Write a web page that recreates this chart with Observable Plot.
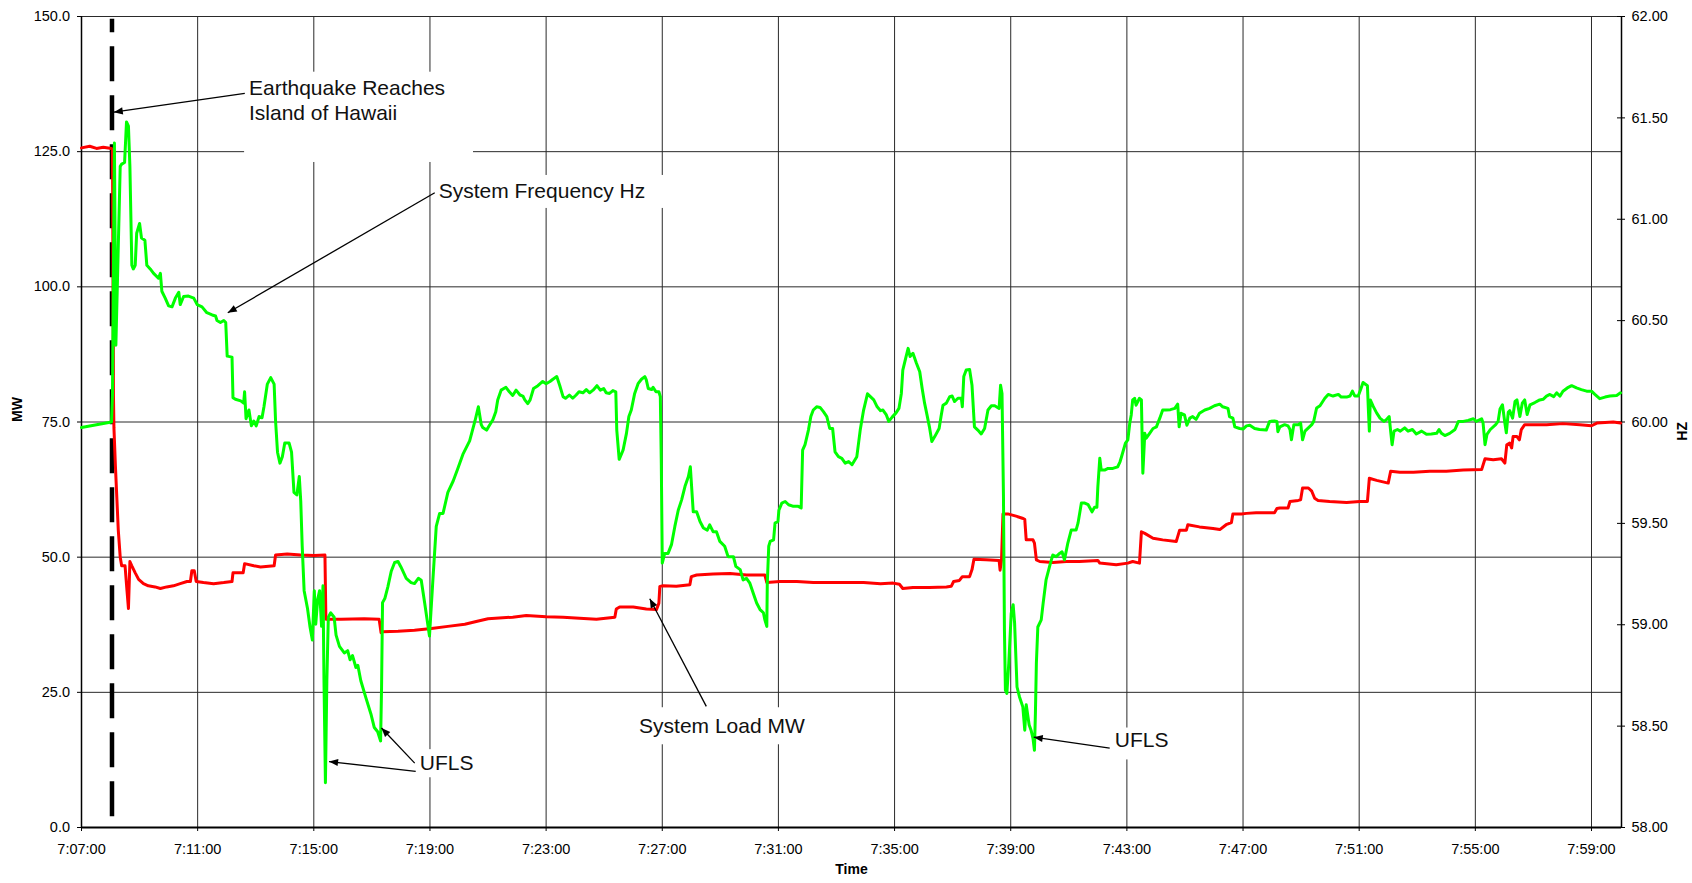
<!DOCTYPE html>
<html>
<head>
<meta charset="utf-8">
<script src="https://cdn.jsdelivr.net/npm/d3@7"></script>
<script src="https://cdn.jsdelivr.net/npm/@observablehq/plot@0.6"></script>
<style>
  html, body { margin: 0; padding: 0; background: #fff; }
  svg { display: block; }
</style>
</head>
<body>
<div id="chart"></div>
<script>
// ---------------- data ----------------
const xTickLabels = ["7:07:00","7:11:00","7:15:00","7:19:00","7:23:00","7:27:00","7:31:00","7:35:00","7:39:00","7:43:00","7:47:00","7:51:00","7:55:00","7:59:00"];
const yTicksMW = [0, 25, 50, 75, 100, 125, 150];
const yTicksHz = [58, 58.5, 59, 59.5, 60, 60.5, 61, 61.5, 62];
const startLabel = "7:07:00";
const endOffsetSec = 3182;
const quakeSec = 63;

// System Load (MW), seconds after 7:07:00
const loadSec = [0,17,31,45,62,64,65,66,67,70,73,76,80,83,90,94,97,100,104,111,118,128,138,152,163,176,190,204,218,225,228,233,237,252,273,294,311,313,334,337,356,370,398,401,425,453,481,503,505,536,584,615,619,622,654,688,723,757,792,820,
840,891,919,960,995,1029,1064,1102,1105,1112,1140,1167,1188,1193,1195,1202,1229,1257,1260,1271,1305,1340,1374,1412,1416,1443,1478,1512,1547,1582,1616,1651,
1677,1690,1697,1718,1752,1787,1797,1802,1814,1820,1835,1840,1844,1869,1896,1898,1901,1904,1914,1931,1944,1949,1952,1966,1969,1973,1980,2007,2035,2062,2100,2104,2138,2162,2172,2186,2190,2197,2214,2234,2262,2265,2269,2283,2286,2310,2338,2352,2365,2376,2379,2397,2407,2427,2465,2470,
2476,2493,2497,2514,2519,2523,2535,2542,2548,2555,2579,2614,2641,2657,2661,2676,2700,2705,2724,2752,2786,2820,2855,2893,2900,2917,2934,2941,2945,2951,2955,2958,2966,2971,2975,2982,3027,3061,3096,3120,3131,3165,3180];
const loadMW = [125.7,126,125.6,125.8,125.6,125.4,105,80,74,67,61,55,50,48.4,48.4,43.8,40.5,49.2,48.4,47.1,45.9,45.1,44.7,44.5,44.2,44.5,44.7,45.1,45.5,45.5,47.5,47.5,45.5,45.3,45.1,45.3,45.5,47.1,47.1,48.8,48.4,48.2,48.4,50.4,50.6,50.4,50.3,50.4,38.5,38.5,38.6,38.5,36,36.2,36.3,36.5,36.8,37.2,37.6,38.2,
38.6,38.9,39.2,39,38.9,38.7,38.5,38.9,40.4,40.8,40.8,40.4,40.3,41.5,44.6,44.7,44.6,44.9,46.4,46.7,46.9,47,46.7,46.7,45.3,45.5,45.5,45.3,45.3,45.3,45.3,45.1,
45.2,45,44.2,44.4,44.4,44.5,44.6,45.5,45.7,46.4,46.4,47.7,49.6,49.5,49.4,47.6,49.5,58,58,57.6,57.2,57,53.2,53.2,52.6,49.5,49.2,49,49.2,49.2,49.4,48.9,48.6,48.9,49.2,48.9,54.7,54.4,53.5,53.2,52.9,53.8,55,55,56,55.6,55.3,55.1,56,56.4,58,58,58.1,58.2,58.2,59,
59.1,59.1,60.3,60.5,60.6,62.8,62.8,62.2,60.9,60.5,60.3,60.1,60.3,60.3,64.6,64.2,63.7,65.9,65.7,65.7,65.9,65.9,66.1,66.2,68.2,68,68.2,67.4,70.8,71.1,70.2,72.3,72.3,71.7,73.6,74.5,74.5,74.7,74.5,74.3,74.8,75,74.8];

// System Frequency (Hz), seconds after 7:07:00
const freqSec = [0,62,64,68,71,74,80,83,89,93,97,100,104,107,111,114,120,124,131,135,142,149,159,163,166,173,180,187,194,201,204,211,221,232,239,249,259,270,277,280,287,294,298,301,311,313,318,329,335,337,340,346,351,356,361,367,373,377,384,391,398,401,405,410,415,420,429,434,439,445,450,453,456,460,467,472,477,481,484,488,492,496,499,501,504,507,510,515,522,526,533,543,550,555,560,567,571,577,588,598,605,612,618,620,622,627,633,640,647,654,660,671,681,688,696,702,709,719,726,733,740,747,757,768,778,788,802,813,820,826,
829,837,843,850,856,860,867,877,884,891,898,906,912,916,922,927,934,943,953,960,968,974,982,988,995,1000,1008,1015,1022,1028,1036,1043,1050,1057,1065,1072,1079,1084,1091,1098,1104,1106,1111,1119,1126,1131,1136,1143,1150,1157,1164,1167,1171,1178,1181,1187,1193,1196,1198,1200,1205,1212,1219,1226,1233,1240,1247,1254,1258,1264,1271,1278,1285,1293,1298,1305,1312,1319,1329,1336,1347,1352,1361,1367,1374,1381,1388,1395,1402,1409,1412,1416,1417,1420,1423,1430,1433,1439,1441,1447,1454,1461,1471,1481,1487,1490,1495,1502,1507,1512,1519,1526,1533,1540,1546,1552,1557,1564,1571,1578,1585,1592,1602,1609,1616,1624,1630,1637,1644,1651,
1656,1663,1668,1675,1683,1689,1694,1697,1703,1708,1712,1718,1725,1732,1737,1742,1747,1752,1757,1763,1772,1776,1780,1787,1794,1799,1804,1811,1818,1820,1823,1828,1835,1840,1845,1852,1859,1866,1873,1880,1887,1896,1899,1902,1905,1907,1909,1912,1916,1921,1925,1928,1933,1938,1945,1949,1952,1958,1962,1966,1969,1971,1973,1976,1983,1987,1993,2000,2004,2007,2014,2021,2026,2031,2038,2045,2055,2059,2066,2073,2080,2088,2093,2098,2100,2104,2107,2114,2121,2131,2141,2146,2150,2157,2162,2166,2169,2172,2176,2179,2186,2190,2193,2197,2200,2207,2214,2221,2228,2234,2241,2250,2259,2265,2268,2272,2279,2284,2290,2296,2303,2310,2321,2331,2341,2352,2358,2369,2372,2379,2383,2393,2400,2407,2414,2424,2434,2448,2455,2465,2470,2472,2476,
2486,2493,2497,2500,2505,2514,2519,2523,2528,2535,2542,2546,2552,2559,2569,2576,2586,2597,2603,2614,2621,2626,2631,2638,2643,2648,2657,2659,2661,2663,2669,2676,2683,2691,2696,2702,2705,2708,2712,2719,2725,2734,2741,2750,2758,2769,2779,2789,2800,2805,2810,2817,2827,2838,2845,2855,2865,2876,2882,2893,2896,2900,2904,2911,2922,2927,2931,2936,2941,2944,2948,2951,2957,2962,2966,2972,2977,2982,2987,2993,3003,3013,3020,3027,3034,3042,3048,3055,3061,3070,3079,3089,3099,3110,3120,3127,3137,3148,3158,3172,3180];
const freqHz = [59.973,60.000,60.133,61.376,60.379,60.667,61.261,61.272,61.280,61.480,61.459,61.261,60.773,60.755,60.773,60.931,60.979,60.907,60.896,60.773,60.755,60.733,60.709,60.733,60.645,60.611,60.573,60.568,60.611,60.640,60.579,60.619,60.621,60.611,60.579,60.568,60.539,60.528,60.523,60.501,60.491,60.501,60.491,60.325,60.320,60.120,60.112,60.104,60.093,60.149,60.016,60.059,59.981,60.005,59.981,60.027,60.021,60.075,60.187,60.219,60.187,60.005,59.851,59.797,59.829,59.896,59.896,59.851,59.653,59.640,59.731,59.611,59.389,59.168,59.080,58.992,58.925,59.168,59.003,59.125,59.168,58.992,59.192,58.731,58.221,58.731,59.037,59.059,59.037,58.949,58.893,58.861,58.872,58.827,58.848,58.789,58.800,58.725,58.637,58.560,58.493,58.472,58.427,58.691,59.109,59.131,59.187,59.264,59.307,59.312,59.285,59.229,59.208,59.203,59.229,59.219,59.109,58.944,59.219,59.485,59.549,59.549,59.653,59.709,59.773,59.840,59.907,60.005,60.075,59.987,
59.973,59.960,59.984,60.011,60.051,60.109,60.157,60.171,60.149,60.131,60.157,60.133,60.128,60.109,60.091,60.109,60.165,60.179,60.200,60.189,60.200,60.211,60.224,60.181,60.125,60.117,60.133,60.117,60.133,60.149,60.144,60.160,60.144,60.157,60.179,60.157,60.165,60.144,60.141,60.155,60.149,59.960,59.816,59.861,59.944,60.027,60.059,60.141,60.189,60.211,60.224,60.208,60.165,60.160,60.171,60.149,60.149,60.125,59.797,59.304,59.352,59.352,59.395,59.485,59.565,59.616,59.683,59.731,59.779,59.557,59.557,59.509,59.477,59.467,59.493,59.459,59.459,59.411,59.387,59.336,59.336,59.288,59.272,59.221,59.229,59.205,59.155,59.107,59.075,59.059,59.024,58.992,59.205,59.387,59.411,59.419,59.501,59.509,59.565,59.600,59.608,59.592,59.584,59.584,59.576,59.861,59.888,59.960,60.027,60.059,60.075,60.072,60.051,60.027,59.968,59.968,59.853,59.829,59.821,59.797,59.805,59.789,59.829,59.960,60.059,60.139,60.125,60.109,60.075,60.056,
60.059,60.035,60.003,60.024,60.045,60.067,60.141,60.256,60.315,60.363,60.323,60.339,60.291,60.248,60.165,60.093,60.035,59.976,59.904,59.928,59.968,60.027,60.083,60.093,60.125,60.128,60.101,60.117,60.117,60.075,60.224,60.256,60.259,60.181,59.976,59.960,59.941,59.968,60.059,60.080,60.080,60.067,60.181,60.141,59.632,58.973,58.677,58.661,58.811,59.056,59.099,59.008,58.693,58.645,58.595,58.480,58.605,58.507,58.480,58.440,58.381,58.563,58.811,58.989,59.024,59.107,59.221,59.285,59.320,59.344,59.336,59.352,59.360,59.320,59.403,59.467,59.467,59.501,59.600,59.600,59.592,59.557,59.579,59.579,59.680,59.821,59.763,59.763,59.771,59.771,59.779,59.805,59.837,59.896,59.912,59.995,60.035,60.109,60.117,60.083,60.117,60.109,59.747,59.944,59.920,59.944,59.968,59.976,60.019,60.059,60.059,60.061,60.067,60.088,59.976,60.043,60.035,59.984,60.019,60.027,60.013,60.043,60.059,60.067,60.080,60.088,60.075,60.067,60.027,60.019,59.976,59.968,59.965,59.981,59.984,59.968,59.963,59.960,60.003,60.005,60.003,59.952,59.976,
59.987,59.981,59.963,59.912,59.987,59.987,59.995,59.912,59.955,59.971,59.987,60.003,60.069,60.080,60.117,60.136,60.128,60.136,60.123,60.123,60.128,60.152,60.128,60.128,60.160,60.195,60.179,60.061,59.955,60.109,60.077,60.045,60.019,60.003,60.011,60.027,59.955,59.888,59.955,59.963,59.955,59.971,59.955,59.963,59.941,59.955,59.939,59.941,59.944,59.963,59.944,59.933,59.944,59.963,60.003,60.003,60.008,60.016,60.003,60.016,59.995,59.888,59.939,59.963,59.987,60.003,60.064,60.085,59.995,59.947,60.048,60.056,60.019,60.101,60.109,60.027,60.093,60.109,60.037,60.085,60.096,60.109,60.112,60.128,60.136,60.125,60.144,60.128,60.152,60.168,60.179,60.168,60.160,60.152,60.152,60.136,60.115,60.123,60.128,60.131,60.144];

// annotations (time offset in seconds, value in MW units of the left axis)
const noteTexts = [
  {s: 346, m: 130.8, text: "Earthquake Reaches\nIsland of Hawaii"},
  {s: 738, m: 116.5, text: "System Frequency Hz"},
  {s: 1152, m: 17.5, text: "System Load MW"},
  {s: 699, m: 10.7, text: "UFLS"},
  {s: 2135, m: 14.9, text: "UFLS"}
];
const noteBoxes = [
  {s1: 337, s2: 810, m1: 123.0, m2: 139.7},
  {s1: 730, s2: 1205, m1: 114.5, m2: 120.6},
  {s1: 1143, s2: 1525, m1: 15.3, m2: 22.15},
  {s1: 693, s2: 815, m1: 9.2, m2: 14.4},
  {s1: 2129, s2: 2248, m1: 12.5, m2: 18.4}
];
const noteArrows = [
  {s1: 337.4, m1: 135.8, s2: 66.7, m2: 132.3},
  {s1: 729.9, m1: 117.4, s2: 302.2, m2: 95.2},
  {s1: 1291, m1: 22.4, s2: 1174.2, m2: 42.3},
  {s1: 690.6, m1: 10.4, s2: 511.5, m2: 12.2},
  {s1: 688.5, m1: 11.9, s2: 619.8, m2: 18.4},
  {s1: 2124.5, m1: 14.7, s2: 1967.5, m2: 16.7}
];

// ---------------- build ----------------
if (loadSec.length !== loadMW.length) throw new Error("load mismatch " + loadSec.length + " " + loadMW.length);
if (freqSec.length !== freqHz.length) throw new Error("freq mismatch " + freqSec.length + " " + freqHz.length);

const parseT = d3.utcParse("%H:%M:%S");
const fmtT = d3.utcFormat("%-H:%M:%S");
const t0 = parseT(startLabel);
const at = s => new Date(+t0 + s * 1000);
const hzToMW = hz => (hz - 58) * 37.5;

const load = loadSec.map((s, i) => ({t: at(s), v: loadMW[i]}));
const freq = freqSec.map((s, i) => ({t: at(s), v: hzToMW(freqHz[i])}));
const xTicks = xTickLabels.map(parseT);
const hzTicksMW = yTicksHz.map(hzToMW);

const W = 1692, H = 883, mL = 81, mR = 71, mT = 16, mB = 56;
const plotW = W - mL - mR;
const FONT = "'Liberation Sans', Arial, Helvetica, sans-serif";
const gridColor = "#2a2a2a";
const arrowColor = "#010101";

const chart = Plot.plot({
  width: W, height: H,
  marginLeft: mL, marginRight: mR, marginTop: mT, marginBottom: mB,
  style: {fontFamily: FONT, fontSize: "14.5px", background: "#fff", color: "#000"},
  x: {type: "utc", domain: [t0, at(endOffsetSec)]},
  y: {domain: [0, 150]},
  marks: [
    // grid
    Plot.ruleY(yTicksMW, {stroke: gridColor, strokeWidth: 1}),
    Plot.ruleX(xTicks, {stroke: gridColor, strokeWidth: 1}),
    // white label boxes
    Plot.rect(noteBoxes, {x1: d => at(d.s1), x2: d => at(d.s2), y1: "m1", y2: "m2", fill: "#fff"}),
    // axis lines
    Plot.ruleX([t0], {stroke: "#000", strokeWidth: 1.5}),
    Plot.ruleX([at(endOffsetSec)], {stroke: "#000", strokeWidth: 1.5}),
    Plot.ruleY([0], {stroke: "#000", strokeWidth: 1.8}),
    // axes
    Plot.axisX({anchor: "bottom", ticks: xTicks, tickFormat: fmtT, tickSize: 4, tickPadding: 12, label: null, fontSize: 14.5}),
    Plot.axisY({anchor: "left", ticks: yTicksMW, tickFormat: d => d.toFixed(1), tickSize: 4, tickPadding: 7.5, label: null, fontSize: 14.5}),
    Plot.axisY({anchor: "right", ticks: hzTicksMW, tickFormat: d => (58 + d / 37.5).toFixed(2), tickSize: 0, tickPadding: 10, label: null, fontSize: 14.5}),
    Plot.ruleY(hzTicksMW, {insetLeft: plotW - 4, insetRight: -4, stroke: "#000", strokeWidth: 1}),
    // axis titles
    Plot.text(["MW"], {frameAnchor: "left", dx: -63.5, rotate: -90, text: d => d, fontWeight: "bold", fontSize: 14}),
    Plot.text(["HZ"], {frameAnchor: "right", dx: 61.5, rotate: -90, text: d => d, fontWeight: "bold", fontSize: 14}),
    Plot.text(["Time"], {frameAnchor: "bottom", dy: 46, text: d => d, fontWeight: "bold", fontSize: 14}),
    // earthquake marker
    Plot.ruleX([at(quakeSec)], {y1: 2, y2: 149.5, stroke: "#000", strokeWidth: 4.5, strokeDasharray: "35,14"}),
    // series
    Plot.line(load, {x: "t", y: "v", stroke: "#ff0000", strokeWidth: 3, strokeLinejoin: "round"}),
    Plot.line(freq, {x: "t", y: "v", stroke: "#00ff00", strokeWidth: 3, strokeLinejoin: "round"}),
    // annotations
    Plot.link(noteArrows, {x1: d => at(d.s1), y1: "m1", x2: d => at(d.s2), y2: "m2", stroke: arrowColor, strokeWidth: 1.3}),
    Plot.text(noteTexts, {x: d => at(d.s), y: "m", text: "text", textAnchor: "start", lineAnchor: "bottom", lineHeight: 1.21, fontSize: 21, fill: "#111"})
  ]
});

// filled arrowheads on the annotation links
const svg = d3.select(chart);
const defs = svg.insert("defs", ":first-child");
defs.append("marker")
  .attr("id", "note-arrowhead")
  .attr("viewBox", "0 -5 10 10")
  .attr("refX", 10).attr("refY", 0)
  .attr("markerWidth", 11).attr("markerHeight", 9)
  .attr("markerUnits", "userSpaceOnUse")
  .attr("orient", "auto")
  .append("path").attr("d", "M0,-4L10,0L0,4Z").attr("fill", "#000").attr("stroke", "none");
svg.selectAll("path").filter(function () {
  const g = this.parentNode;
  return (this.getAttribute("stroke") === arrowColor) || (g && g.getAttribute && g.getAttribute("stroke") === arrowColor);
}).attr("marker-end", "url(#note-arrowhead)");

document.getElementById("chart").appendChild(chart);
</script>
</body>
</html>
